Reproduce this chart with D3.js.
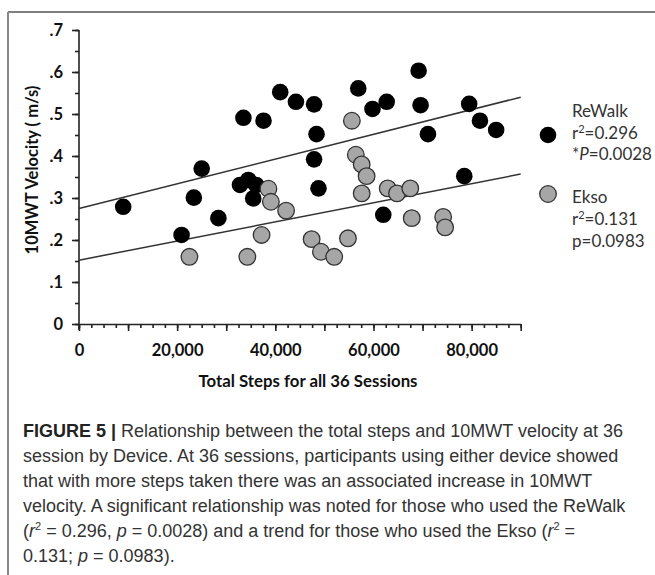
<!DOCTYPE html>
<html>
  <head>
    <meta charset="utf-8">
    <script src="https://d3js.org/d3.v7.min.js"></script>
    <style>
      body { margin: 0; background: #fff; }
      .axis path, .axis line { stroke: #222; stroke-width: 1.6; }
      .axis text { font-family: Lato, sans-serif; font-weight: bold; font-size: 16.5px; fill: #111; }
    </style>
  </head>
  <body>
    <script type="text/javascript">
      // ReWalk participants: total steps vs 10MWT velocity (m/s)
      var rewalkSteps = [9000, 20900, 23400, 25000, 28400, 32800, 33500, 34500, 35500, 36100,
                         37600, 41000, 44200, 47900, 47900, 48400, 48800, 56900, 59800, 62000,
                         62700, 69200, 69600, 71100, 78500, 79500, 81700, 85000];
      var rewalkVelocity = [0.279, 0.212, 0.301, 0.370, 0.252, 0.331, 0.491, 0.343, 0.299, 0.331,
                            0.484, 0.552, 0.529, 0.523, 0.392, 0.452, 0.323, 0.561, 0.512, 0.260,
                            0.529, 0.603, 0.521, 0.452, 0.352, 0.524, 0.484, 0.462];
      // Ekso participants
      var eksoSteps = [22500, 34300, 37200, 38600, 39100, 42200, 47400, 49300, 52000, 54800,
                       55600, 56400, 57600, 58600, 57600, 62900, 64800, 67500, 67800, 74200, 74600];
      var eksoVelocity = [0.160, 0.160, 0.212, 0.322, 0.291, 0.270, 0.202, 0.172, 0.160, 0.204,
                          0.484, 0.403, 0.380, 0.352, 0.311, 0.323, 0.311, 0.323, 0.252, 0.255, 0.230];
      // fitted regression lines (end points)
      var rewalkFit = [[0, 0.275], [90000, 0.540]];
      var eksoFit = [[0, 0.152], [90000, 0.357]];

      var xMajorTicks = [0, 10000, 20000, 30000, 40000, 50000, 60000, 70000, 80000, 90000];
      var xLabelTicks = [0, 20000, 40000, 60000, 80000];
      var yMajorTicks = [0, 0.1, 0.2, 0.3, 0.4, 0.5, 0.6, 0.7];

      var captionLines = [
        "Relationship between the total steps and 10MWT velocity at 36",
        "session by Device. At 36 sessions, participants using either device showed",
        "that with more steps taken there was an associated increase in 10MWT",
        "velocity. A significant relationship was noted for those who used the ReWalk"
      ];

      var W = 655, H = 575;
      var svg = d3.select("body").append("svg")
          .attr("width", W).attr("height", H);
      svg.append("rect").attr("width", W).attr("height", H).attr("fill", "#fff");

      // figure frame (top and left rule)
      svg.append("line").attr("x1", 8).attr("x2", W).attr("y1", 12).attr("y2", 12)
          .attr("stroke", "#555").attr("stroke-width", 1.5);
      svg.append("line").attr("x1", 8).attr("x2", 8).attr("y1", 12).attr("y2", H)
          .attr("stroke", "#888").attr("stroke-width", 2);

      var x = d3.scaleLinear().domain([0, 90000]).range([79, 520.7]);
      var y = d3.scaleLinear().domain([0, 0.7]).range([324, 30]);

      // minor ticks
      svg.append("g").attr("class", "axis").attr("transform", "translate(0," + y(0) + ")")
          .call(d3.axisBottom(x).tickValues(d3.range(0, 90001, 2500)).tickSize(4).tickFormat(""))
          .select(".domain").remove();
      svg.append("g").attr("class", "axis").attr("transform", "translate(" + x(0) + ",0)")
          .call(d3.axisLeft(y).tickValues(d3.range(0, 0.7001, 0.05)).tickSize(4).tickFormat(""))
          .select(".domain").remove();

      // major ticks + labels
      var xAxis = svg.append("g").attr("class", "axis").attr("transform", "translate(0," + y(0) + ")")
          .call(d3.axisBottom(x).tickValues(xMajorTicks).tickSizeInner(7).tickSizeOuter(0).tickPadding(13)
            .tickFormat(function (d) { return xLabelTicks.indexOf(d) >= 0 ? d3.format(",")(d) : ""; }));
      var yAxis = svg.append("g").attr("class", "axis").attr("transform", "translate(" + x(0) + ",0)")
          .call(d3.axisLeft(y).tickValues(yMajorTicks).tickSizeInner(7).tickSizeOuter(0).tickPadding(9)
            .tickFormat(function (d) { return d === 0 ? "0" : d3.format(".1f")(d).replace(/^0/, ""); }));
      yAxis.select(".domain").attr("d", "M0," + y(0.7) + "V" + (y(0) + 6));

      // axis titles
      svg.append("text")
          .attr("x", 308).attr("y", 387)
          .attr("text-anchor", "middle")
          .style("font-family", "Lato, sans-serif").style("font-weight", "bold")
          .style("font-size", "16.8px").style("fill", "#111")
          .text("Total Steps for all 36 Sessions");
      svg.append("text")
          .attr("transform", "translate(38,170) rotate(-90)")
          .attr("text-anchor", "middle")
          .style("font-family", "Lato, sans-serif").style("font-weight", "bold")
          .style("font-size", "16.5px").style("fill", "#111")
          .text("10MWT Velocity ( m/s)");

      // regression lines
      var line = d3.line().x(function (d) { return x(d[0]); }).y(function (d) { return y(d[1]); });
      [rewalkFit, eksoFit].forEach(function (f) {
        svg.append("path").attr("d", line(f))
            .attr("fill", "none").attr("stroke", "#333").attr("stroke-width", 1.5);
      });

      // points
      var r = 8.3;
      svg.selectAll("circle.rewalk")
          .data(d3.range(rewalkSteps.length)).enter()
          .append("circle").attr("class", "rewalk")
          .attr("cx", function (i) { return x(rewalkSteps[i]); })
          .attr("cy", function (i) { return y(rewalkVelocity[i]); })
          .attr("r", r).attr("fill", "#000");
      svg.selectAll("circle.ekso")
          .data(d3.range(eksoSteps.length)).enter()
          .append("circle").attr("class", "ekso")
          .attr("cx", function (i) { return x(eksoSteps[i]); })
          .attr("cy", function (i) { return y(eksoVelocity[i]); })
          .attr("r", r).attr("fill", "#a6a6a6").attr("stroke", "#333").attr("stroke-width", 1.3);

      // legend
      var legFont = "Lato, sans-serif";
      svg.append("circle").attr("cx", 548).attr("cy", 135).attr("r", r).attr("fill", "#000");
      svg.append("circle").attr("cx", 548).attr("cy", 194).attr("r", r)
          .attr("fill", "#a6a6a6").attr("stroke", "#333").attr("stroke-width", 1.3);

      function legText(yy) {
        return svg.append("text").attr("x", 572).attr("y", yy)
            .style("font-family", legFont).style("font-size", "17px").style("fill", "#333");
      }
      legText(117).text("ReWalk");
      var t = legText(139);
      t.append("tspan").text("r");
      t.append("tspan").attr("dy", -6).style("font-size", "11px").text("2");
      t.append("tspan").attr("dy", 6).text("=0.296");
      t = legText(160);
      t.append("tspan").text("*");
      t.append("tspan").style("font-style", "italic").text("P");
      t.append("tspan").text("=0.0028");
      legText(203).text("Ekso");
      t = legText(225);
      t.append("tspan").text("r");
      t.append("tspan").attr("dy", -6).style("font-size", "11px").text("2");
      t.append("tspan").attr("dy", 6).text("=0.131");
      legText(247).text("p=0.0983");

      // caption
      var capFont = "'Liberation Sans', Arial, sans-serif";
      var cap = svg.append("g")
          .style("font-family", capFont).style("font-size", "18px").style("fill", "#333");
      var first = cap.append("text").attr("x", 23).attr("y", 437);
      first.append("tspan").style("font-weight", "bold").style("fill", "#222").text("FIGURE 5 | ");
      first.append("tspan").text(captionLines[0]);
      cap.selectAll("text.rest").data(captionLines.slice(1)).enter()
          .append("text").attr("class", "rest")
          .attr("x", 23).attr("y", function (d, i) { return 462 + i * 25; })
          .text(function (d) { return d; });
      var l5 = cap.append("text").attr("x", 23).attr("y", 537);
      l5.append("tspan").text("(");
      l5.append("tspan").style("font-style", "italic").text("r");
      l5.append("tspan").attr("dy", -7).style("font-size", "11px").text("2");
      l5.append("tspan").attr("dy", 7).text(" = 0.296, ");
      l5.append("tspan").style("font-style", "italic").text("p");
      l5.append("tspan").text(" = 0.0028) and a trend for those who used the Ekso (");
      l5.append("tspan").style("font-style", "italic").text("r");
      l5.append("tspan").attr("dy", -7).style("font-size", "11px").text("2");
      l5.append("tspan").attr("dy", 7).text(" =");
      var l6 = cap.append("text").attr("x", 23).attr("y", 562);
      l6.append("tspan").text("0.131; ");
      l6.append("tspan").style("font-style", "italic").text("p");
      l6.append("tspan").text(" = 0.0983).");
    </script>
  </body>
</html>
